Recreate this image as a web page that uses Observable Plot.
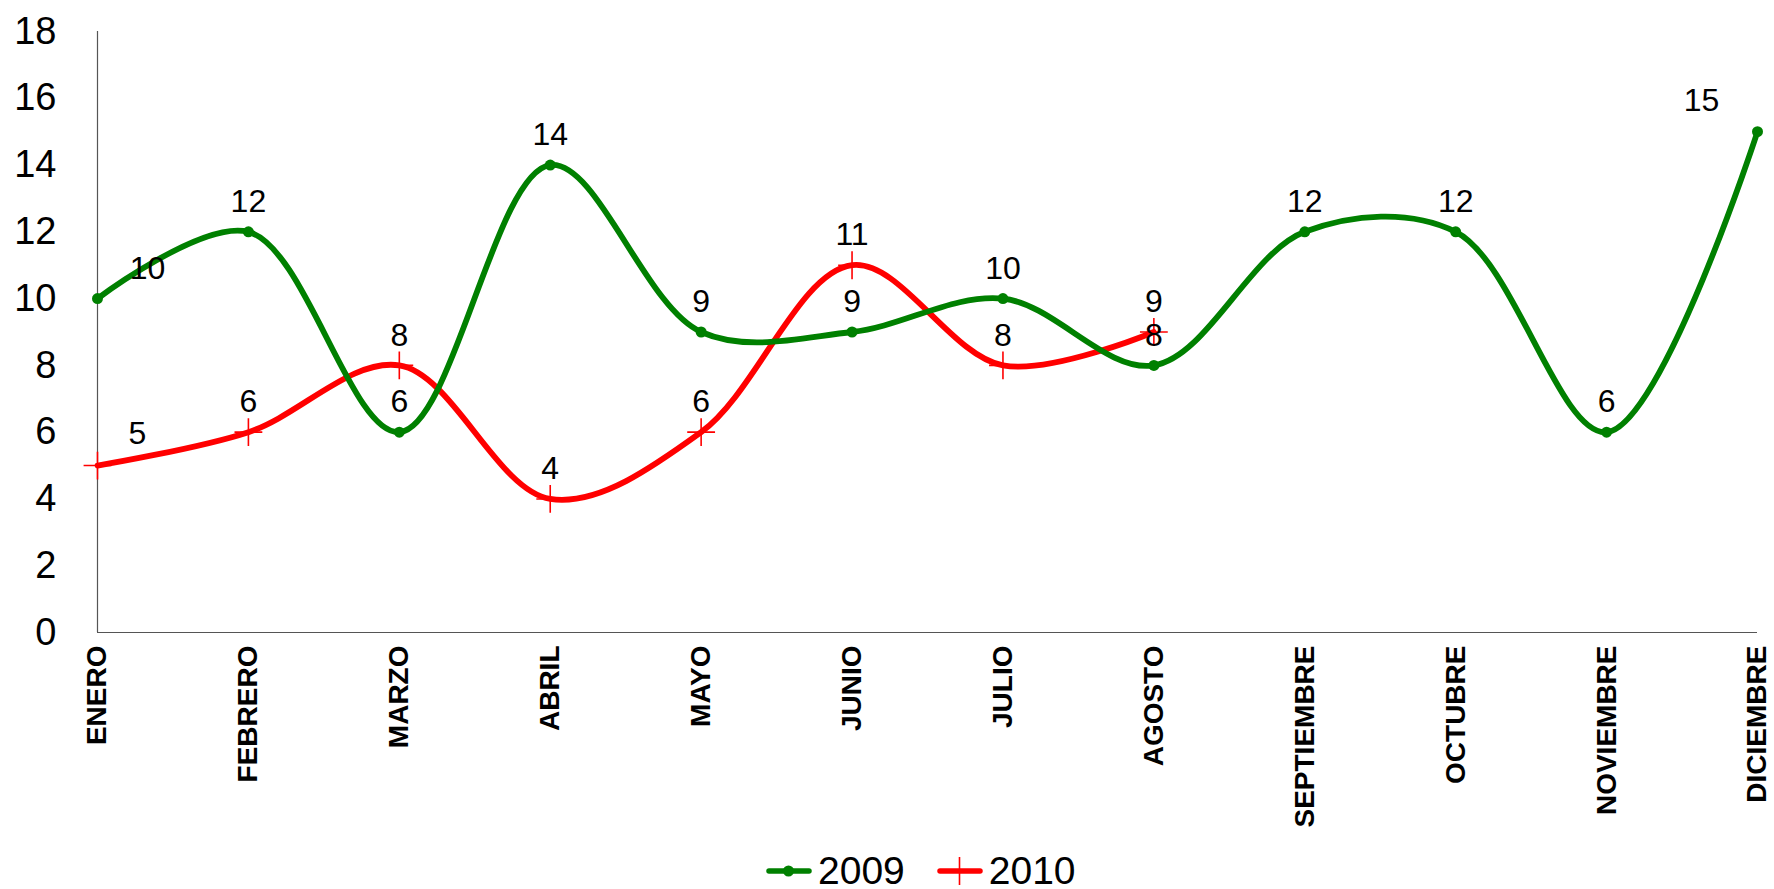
<!DOCTYPE html>
<html><head><meta charset="utf-8">
<script src="https://cdn.jsdelivr.net/npm/d3@7"></script>
<script src="https://cdn.jsdelivr.net/npm/@observablehq/plot@0.6"></script>
<style>
body{margin:0;background:#fff;font-family:"Liberation Sans",Arial,sans-serif;position:relative;width:1774px;height:889px;overflow:hidden}
#legend{position:absolute;left:766px;top:849px;height:44px;display:flex;align-items:center;font-size:39px;line-height:44px;color:#000}
#legend .item{display:flex;align-items:center}
#legend svg{display:block}
</style>
</head><body><div id="chart"></div><div id="legend"></div>
<script>
const months = ["ENERO","FEBRERO","MARZO","ABRIL","MAYO","JUNIO","JULIO","AGOSTO","SEPTIEMBRE","OCTUBRE","NOVIEMBRE","DICIEMBRE"];
const values2009 = [10,12,6,14,9,9,10,8,12,12,6,15];
const values2010 = [5,6,8,4,6,11,8,9];
const seriesNames = ["2009","2010"];
const seriesColors = ["#008000","#ff0000"];
const yTicks = [0,2,4,6,8,10,12,14,16,18];

const d2009 = values2009.map((v,i)=>({month:months[i], value:v, i}));
const d2010 = values2010.map((v,i)=>({month:months[i], value:v, i}));
const last2009 = d2009.length - 1;

const chart = Plot.plot({
  width:1774, height:845,
  marginLeft:97, marginRight:17, marginTop:31, marginBottom:213,
  x:{type:"point", domain:months, padding:0, round:false, label:null},
  y:{domain:[0,18], label:null},
  style:{fontFamily:'"Liberation Sans",Arial,sans-serif', background:"white", color:"black"},
  marks:[
    Plot.axisY({ticks:yTicks, tickSize:0, tickPadding:41, fontSize:38, tickFormat:d=>String(d), label:null}),
    Plot.axisX({tickRotate:-90, tickSize:0, tickPadding:13, fontSize:28, fontWeight:"bold", label:null}),
    Plot.ruleX([months[0]], {stroke:"#555", strokeWidth:1.2}),
    Plot.ruleY([0], {stroke:"#555", strokeWidth:1.2}),
    Plot.line(d2010, {x:"month", y:"value", stroke:seriesColors[1], strokeWidth:5.8, curve:"catmull-rom"}),
    Plot.dot(d2010, {x:"month", y:"value", symbol:"plus", r:9, stroke:seriesColors[1], strokeWidth:1.6}),
    Plot.line(d2009, {x:"month", y:"value", stroke:seriesColors[0], strokeWidth:5.8, curve:"catmull-rom"}),
    Plot.dot(d2009, {x:"month", y:"value", r:5.5, fill:seriesColors[0], stroke:"none"}),
    Plot.text(d2009, {filter:d=>d.i>0 && d.i<last2009, x:"month", y:"value", text:"value", dy:-30, fontSize:32, fill:"black"}),
    Plot.text(d2009, {filter:d=>d.i===0, x:"month", y:"value", text:"value", dx:50, dy:-30, fontSize:32, fill:"black"}),
    Plot.text(d2009, {filter:d=>d.i===last2009, x:"month", y:"value", text:"value", dx:-56, dy:-31, fontSize:32, fill:"black"}),
    Plot.text(d2010, {filter:d=>d.i>0, x:"month", y:"value", text:"value", dy:-30, fontSize:32, fill:"black"}),
    Plot.text(d2010, {filter:d=>d.i===0, x:"month", y:"value", text:"value", dx:40, dy:-32, fontSize:32, fill:"black"})
  ]
});
document.getElementById("chart").appendChild(chart);

const legend = document.getElementById("legend");
seriesNames.forEach((name, k) => {
  const item = document.createElement("div");
  item.className = "item";
  item.style.marginRight = k === 0 ? "32px" : "0";
  const marker = k === 0
    ? `<circle cx="22.5" cy="15" r="5.5" fill="${seriesColors[0]}"/>`
    : `<line x1="22.5" x2="22.5" y1="1" y2="29" stroke="${seriesColors[1]}" stroke-width="1.6"/>`;
  item.innerHTML = `<svg width="46" height="30"><line x1="3" x2="43" y1="15" y2="15" stroke="${seriesColors[k]}" stroke-width="5.5" stroke-linecap="round"/>${marker}</svg><span style="margin-left:6px">${name}</span>`;
  legend.appendChild(item);
});
</script>
</body></html>
